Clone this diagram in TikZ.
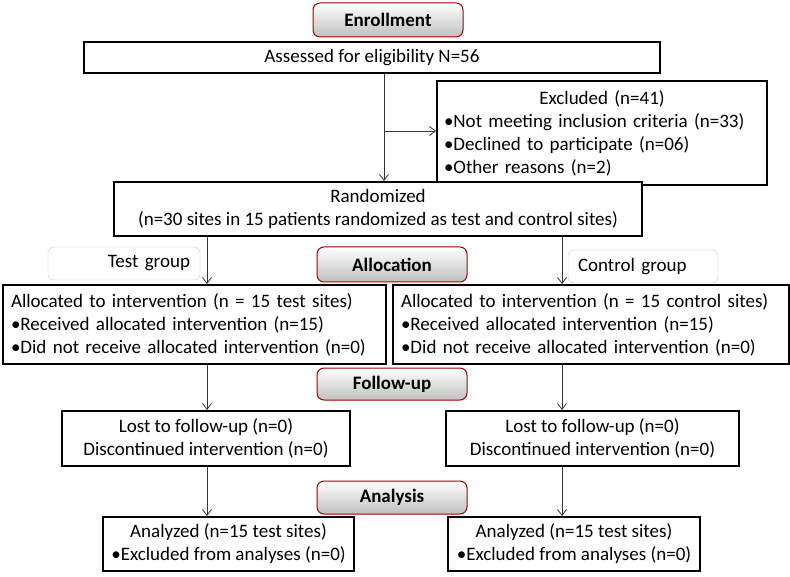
\documentclass[tikz,border=0pt]{standalone}
\usepackage{fontspec}
\setmainfont{Carlito}
\usetikzlibrary{arrows.meta}

\begin{document}
\begin{tikzpicture}
[x=1pt,y=-1pt,
 every node/.style={font=\fontsize{19}{23}\selectfont,inner sep=0pt},
 box/.style={draw,line width=1.9pt,fill=white},
 stage/.style={draw=red!65!black,line width=1pt,rounded corners=7pt,top color=white,bottom color=gray!50,font=\fontsize{19}{23}\selectfont\bfseries,minimum width=150pt,minimum height=34pt},
 grp/.style={draw=gray!40,rounded corners=6pt,fill=white,minimum height=33pt},
 arr/.style={-{Straight Barb[length=6pt,width=9pt]},draw=gray!40!black,line width=0.8pt}]
\useasboundingbox (0,0) rectangle (790,577);
\node[stage] (enroll) at (388,20) {Enrollment};
\node[box,minimum width=576pt,minimum height=31pt] (assess) at (372,57.5) {Assessed for eligibility N=56};
\node[box,minimum width=330pt,minimum height=104pt,text width=316pt,align=left] (excl) at (602,133) {\makebox[\linewidth]{Excluded (n=41)}\\•Not meeting inclusion criteria (n=33)\\•Declined to participate (n=06)\\•Other reasons (n=2)};
\node[box,minimum width=528pt,minimum height=54pt,align=center] (rand) at (378,209) {Randomized\\(n=30 sites in 15 patients randomized as test and control sites)};
\node[grp,minimum width=152pt,text width=132pt,align=right] (tgroup) at (124,263.5) {Test group};
\node[stage,minimum height=35pt] (alloc) at (392,264.5) {Allocation};
\node[grp,minimum width=150pt,text width=130pt,align=left] (cgroup) at (643,266.5) {Control group};
\node[box,minimum width=383pt,minimum height=79pt,text width=367pt,align=left] (allocL) at (194.5,324.5) {Allocated to intervention (n = 15 test sites)\\•Received allocated intervention (n=15)\\•Did not receive allocated intervention (n=0)};
\node[box,minimum width=396pt,minimum height=79pt,text width=380pt,align=left] (allocR) at (591,324.5) {Allocated to intervention (n = 15 control sites)\\•Received allocated intervention (n=15)\\•Did not receive allocated intervention (n=0)};
\node[stage,minimum height=32pt] (follow) at (392,384) {Follow-up};
\node[box,minimum width=288pt,minimum height=55pt,align=center] (folL) at (206,438.5) {Lost to follow-up (n=0)\\Discontinued intervention (n=0)};
\node[box,minimum width=293pt,minimum height=55pt,align=center] (folR) at (592.5,438.5) {Lost to follow-up (n=0)\\Discontinued intervention (n=0)};
\node[stage,minimum height=33pt] (analysis) at (392,497.5) {Analysis};
\node[box,minimum width=251pt,minimum height=54pt,align=center] (anaL) at (228.5,544) {Analyzed (n=15 test sites)\\•Excluded from analyses (n=0)};
\node[box,minimum width=252pt,minimum height=54pt,align=center] (anaR) at (574,544) {Analyzed (n=15 test sites)\\•Excluded from analyses (n=0)};
\coordinate (split) at (384,131);
\coordinate (lcol) at (207,0);
\coordinate (rcol) at (562,0);
\draw[arr] (assess.south -| split) -- (rand.north -| split);
\draw[arr] (split) -- (excl.west |- split);
\foreach \from/\to/\col in {rand/allocL/lcol,rand/allocR/rcol,allocL/folL/lcol,allocR/folR/rcol,folL/anaL/lcol,folR/anaR/rcol}
\draw[arr] (\from.south -| \col) -- (\to.north -| \col);
\end{tikzpicture}
\end{document}
